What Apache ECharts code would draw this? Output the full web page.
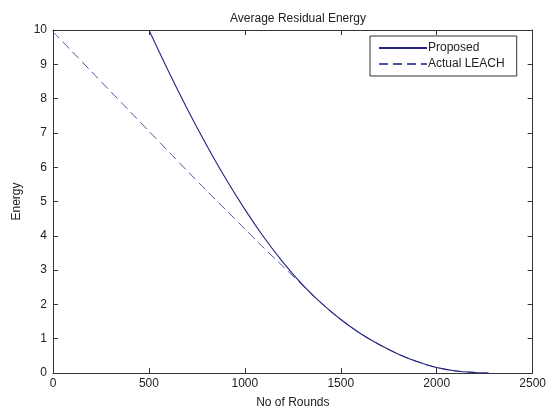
<!DOCTYPE html>
<html>
<head>
<meta charset="utf-8">
<script src="https://cdn.jsdelivr.net/npm/echarts@6/dist/echarts.min.js"></script>
<style>html,body{margin:0;padding:0;background:#fff;}#c{width:549px;height:414px;}</style>
</head>
<body>
<div id="c"></div>
<script>
const proposedRounds = [500, 600, 700, 800, 900, 1000, 1100, 1200, 1300, 1400, 1500, 1600, 1700, 1800, 1900, 2000, 2100, 2200, 2270];
const proposedEnergy = [10.0, 8.82, 7.7, 6.65, 5.67, 4.77, 3.95, 3.22, 2.58, 2.03, 1.56, 1.16, 0.83, 0.55, 0.33, 0.16, 0.06, 0.015, 0.0];
const leachRounds = [0, 100, 200, 300, 400, 500, 600, 700, 800, 900, 1000, 1100, 1200, 1300, 1400, 1500, 1600, 1700, 1800, 1900, 2000, 2100, 2200, 2270];
const leachEnergy = [9.95, 9.37, 8.79, 8.21, 7.63, 7.05, 6.47, 5.89, 5.32, 4.76, 4.2, 3.64, 3.1, 2.56, 2.03, 1.56, 1.16, 0.83, 0.55, 0.33, 0.16, 0.06, 0.015, 0.0];
const seriesNames = ['Proposed', 'Actual LEACH'];
const titleText = 'Average Residual Energy';
const xName = 'No of Rounds';
const yName = 'Energy';

const font = 'Liberation Sans, Arial, sans-serif';
const axisCol = '#333';
function pairs(xs, ys){ return xs.map((x,i)=>[x, ys[i]]); }

const chart = echarts.init(document.getElementById('c'), null, {renderer:'canvas'});
const tickStyle = {show:true, inside:true, length:5, lineStyle:{color:axisCol, width:1}};
chart.setOption({
  animation:false,
  backgroundColor:'#fff',
  title:{text:titleText, left:293, top:8, textAlign:'center',
    textStyle:{fontFamily:font, fontSize:12, fontWeight:'normal', color:'#222'}},
  grid:{left:53, right:15, top:30, bottom:37, show:false},
  legend:{
    orient:'vertical', left:370, top:36,
    padding:[6,12,6,8], itemGap:4, itemWidth:48, itemHeight:14,
    borderColor:axisCol, borderWidth:1, borderRadius:0, backgroundColor:'#fff',
    itemStyle:{opacity:0},
    textStyle:{fontFamily:font, fontSize:12, color:'#222', padding:[0,0,0,-4]},
    data:seriesNames
  },
  xAxis:[{
    type:'value', min:0, max:2500, interval:500,
    name:xName, nameLocation:'middle', nameGap:24,
    nameTextStyle:{fontFamily:font, fontSize:12, color:'#222'},
    axisLine:{show:true, onZero:false, lineStyle:{color:axisCol, width:1}},
    axisTick:tickStyle,
    axisLabel:{fontFamily:font, fontSize:12, color:'#222', margin:5, formatter:v=>String(v)},
    splitLine:{show:false}
  },{
    type:'value', min:0, max:2500, interval:500, position:'top',
    axisLine:{show:true, onZero:false, lineStyle:{color:axisCol, width:1}},
    axisTick:tickStyle, axisLabel:{show:false}, splitLine:{show:false}
  }],
  yAxis:[{
    type:'value', min:0, max:10, interval:1,
    name:yName, nameLocation:'middle', nameGap:30, nameRotate:90,
    nameTextStyle:{fontFamily:font, fontSize:12, color:'#222'},
    axisLine:{show:true, onZero:false, lineStyle:{color:axisCol, width:1}},
    axisTick:tickStyle,
    axisLabel:{fontFamily:font, fontSize:12, color:'#222', margin:6},
    splitLine:{show:false}
  },{
    type:'value', min:0, max:10, interval:1, position:'right',
    axisLine:{show:true, onZero:false, lineStyle:{color:axisCol, width:1}},
    axisTick:tickStyle, axisLabel:{show:false}, splitLine:{show:false}
  }],
  series:[{
    name:seriesNames[0], type:'line', smooth:0.3, symbol:'none',
    data:pairs(proposedRounds, proposedEnergy),
    lineStyle:{color:'#23237f', width:1.1, type:'solid'},
    itemStyle:{color:'#23237f'}, z:3
  },{
    name:seriesNames[1], type:'line', smooth:0.3, symbol:'none',
    data:pairs(leachRounds, leachEnergy),
    lineStyle:{color:'#4a55a0', width:1, type:[9,5]},
    itemStyle:{color:'#4a55a0'}, z:2
  }]
});
</script>
</body>
</html>
